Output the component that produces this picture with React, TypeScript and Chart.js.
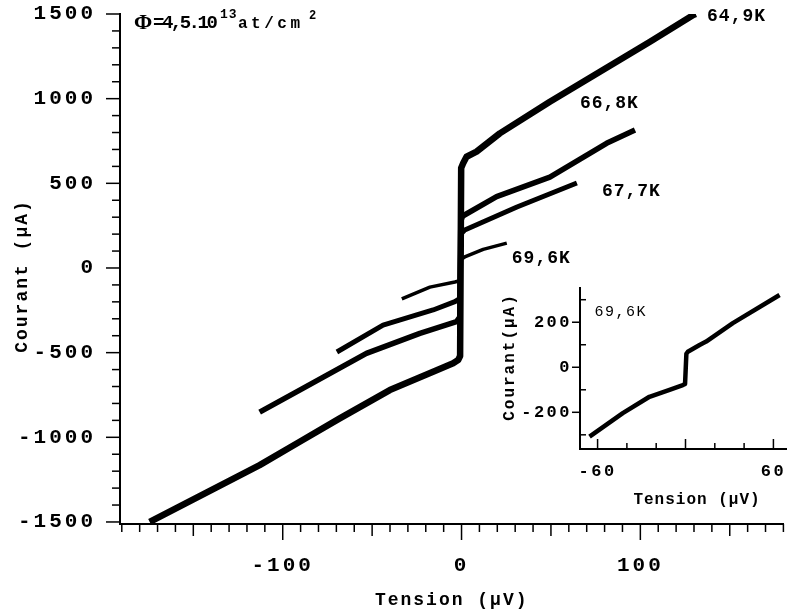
import React, { useEffect, useRef } from "react";
import { Chart, registerables } from "chart.js";

Chart.register(...registerables);

// ---------- main chart axes ----------
const X_MIN = -191;
const X_MAX = 180;
const Y_MIN = -1512;
const Y_MAX = 1500;
const xTickLabels = [-100, 0, 100];
const yTickLabels = [-1500, -1000, -500, 0, 500, 1000, 1500];
const xMinorStep = 10;
const yMinorStep = 100;

// ---------- I-V curves : Tension (µV) / Courant (µA) ----------
const v649 = [-174.4, -112.9, -90.5, -68.1, -40.1, -15.9, -4.7, -1.9, -0.8, -0.2, 0.9, 2.8, 8.4, 21.4, 49.4, 77.4, 105.4, 129.6, 131];
const i649 = [-1500, -1164, -1026, -888, -721, -613, -563, -544, -520, 590, 618, 657, 687, 795, 982, 1159, 1336, 1494, 1500];

const v668 = [-112.9, -90.5, -53.2, -23.3, -2.8, -1, -0.4, 0.7, 19.6, 49.4, 81.1, 97];
const i668 = [-851, -721, -504, -386, -317, -290, 280, 307, 421, 537, 736, 815];

const v677 = [-69.7, -43.9, -15.9, -3.7, -1, -0.4, 1.8, 31, 64.5];
const i677 = [-496, -337, -248, -199, -180, 200, 224, 360, 502];

const v696 = [-33.4, -17.7, -3.7, -1, -0.4, 1.8, 12.1, 25.3];
const i696 = [-183, -113, -83, -75, 50, 65, 110, 147];

const curveNames = ["64,9K", "66,8K", "67,7K", "69,6K"];
const curveLabelV = [137.3, 66.2, 78.5, 28.1];
const curveLabelI = [1488, 974, 449, 59];

// ---------- inset (69,6K) ----------
const INSET_X_MIN = -72;
const INSET_X_MAX = 69;
const INSET_Y_MIN = -363;
const INSET_Y_MAX = 352;
const insetXTickLabels = [-60, 60];
const insetYTickLabels = [-200, 0, 200];
const insetXMinorStep = 20;
const insetYMinorStep = 100;
const insetV = [-65.5, -42.8, -24.6, -10.9, -1.8, -0.3, 0.6, 1.6, 9.6, 14.1, 32.3, 64.2];
const insetI = [-308, -204, -131, -100, -79, -74, 60, 69, 99, 114, 196, 321];
const insetLabel = "69,6K";
const insetLabelV = -62.1;
const insetLabelI = 246;

const MONO = "'Liberation Mono', 'DejaVu Sans Mono', monospace";
const SERIF = "'Liberation Serif', 'DejaVu Serif', serif";

function pts(xs: number[], ys: number[]) {
  return xs.map((x, i) => ({ x, y: ys[i] }));
}

function line(ctx: CanvasRenderingContext2D, x1: number, y1: number, x2: number, y2: number) {
  ctx.beginPath();
  ctx.moveTo(x1, y1);
  ctx.lineTo(x2, y2);
  ctx.stroke();
}

function ds(data: { x: number; y: number }[], width: number) {
  return {
    data,
    borderColor: "#000",
    backgroundColor: "#000",
    borderWidth: width,
    pointRadius: 0,
    showLine: true,
    tension: 0,
    borderJoinStyle: "round",
    borderCapStyle: "butt",
    fill: false,
  };
}

function zeroPad(s: any) {
  s.paddingTop = 0;
  s.paddingBottom = 0;
  s.paddingLeft = 0;
  s.paddingRight = 0;
}

const plainLabel = (v: any) => String(v);

export default function App() {
  const mainRef = useRef<HTMLCanvasElement>(null);
  const insetRef = useRef<HTMLCanvasElement>(null);

  useEffect(() => {
    const spacingPlugin = (sp: string) => ({
      id: "spacing",
      beforeLayout(chart: any) {
        chart.ctx.letterSpacing = sp;
      },
      beforeDraw(chart: any) {
        chart.ctx.letterSpacing = sp;
      },
    });

    const mainDecor = {
      id: "mainDecor",
      afterDraw(chart: any) {
        const ctx = chart.ctx as CanvasRenderingContext2D;
        const xs = chart.scales.x;
        const ys = chart.scales.y;
        const { left, bottom } = chart.chartArea;
        ctx.save();
        ctx.strokeStyle = "#000";
        ctx.lineWidth = 1.5;
        for (let v = Math.ceil(X_MIN / xMinorStep) * xMinorStep; v <= X_MAX; v += xMinorStep) {
          const len = v % 100 === 0 ? 16 : v % 50 === 0 ? 12 : 8;
          const px = xs.getPixelForValue(v);
          line(ctx, px, bottom, px, bottom + len);
        }
        for (let v = -1500; v <= Y_MAX; v += yMinorStep) {
          const len = v % 500 === 0 ? 14 : 8;
          const py = ys.getPixelForValue(v);
          line(ctx, left - len, py, left, py);
        }
        ctx.fillStyle = "#000";
        // axis titles
        (ctx as any).letterSpacing = "2px";
        ctx.font = `bold 18px ${MONO}`;
        ctx.textAlign = "center";
        ctx.textBaseline = "middle";
        ctx.fillText("Tension (µV)", (chart.chartArea.left + chart.chartArea.right) / 2, 600);
        ctx.save();
        ctx.translate(22, (chart.chartArea.top + chart.chartArea.bottom) / 2 + 7);
        ctx.rotate(-Math.PI / 2);
        ctx.fillText("Courant (µA)", 0, 0);
        ctx.restore();
        // curve labels
        (ctx as any).letterSpacing = "1px";
        ctx.font = `bold 18px ${MONO}`;
        ctx.textAlign = "left";
        for (let k = 0; k < curveNames.length; k++) {
          ctx.fillText(curveNames[k], xs.getPixelForValue(curveLabelV[k]), ys.getPixelForValue(curveLabelI[k]));
        }
        // fluence
        ctx.textBaseline = "alphabetic";
        (ctx as any).letterSpacing = "0px";
        ctx.font = `bold 22px ${SERIF}`;
        ctx.fillText("Φ", 134, 29);
        (ctx as any).letterSpacing = "-2.5px";
        ctx.font = `bold 19px ${MONO}`;
        ctx.fillText("=4,5.10", 153, 28);
        (ctx as any).letterSpacing = "1px";
        ctx.font = `bold 13px ${MONO}`;
        ctx.fillText("13", 220, 18);
        (ctx as any).letterSpacing = "3.5px";
        ctx.font = `bold 16px ${MONO}`;
        ctx.fillText("at/cm", 238, 28);
        (ctx as any).letterSpacing = "0px";
        ctx.font = `bold 12px ${MONO}`;
        ctx.fillText("2", 309, 19);
        ctx.restore();
      },
    };

    const main = new Chart(mainRef.current as HTMLCanvasElement, {
      type: "scatter",
      data: {
        datasets: [
          ds(pts(v649, i649), 6.5),
          ds(pts(v668, i668), 5.5),
          ds(pts(v677, i677), 5),
          ds(pts(v696, i696), 3.5),
        ] as any,
      },
      options: {
        responsive: false,
        animation: false,
        events: [],
        layout: { padding: { top: 14, right: 4.6, left: 0, bottom: 0 } },
        plugins: { legend: { display: false }, tooltip: { enabled: false } },
        scales: {
          x: {
            type: "linear",
            min: X_MIN,
            max: X_MAX,
            afterBuildTicks: (s: any) => {
              s.ticks = xTickLabels.map((v) => ({ value: v }));
            },
            afterFit: (s: any) => {
              s.height = 91;
              zeroPad(s);
            },
            grid: { display: false, drawTicks: true, tickLength: 16 },
            border: { display: true, color: "#000", width: 2 },
            ticks: {
              color: "#000",
              font: { family: MONO, size: 21, weight: "bold" },
              padding: 13,
              maxRotation: 0,
              autoSkip: false,
              callback: plainLabel,
            },
          },
          y: {
            type: "linear",
            min: Y_MIN,
            max: Y_MAX,
            afterBuildTicks: (s: any) => {
              s.ticks = yTickLabels.map((v) => ({ value: v }));
            },
            afterFit: (s: any) => {
              s.width = 120;
              zeroPad(s);
            },
            grid: { display: false, drawTicks: true, tickLength: 16 },
            border: { display: true, color: "#000", width: 2 },
            ticks: {
              color: "#000",
              font: { family: MONO, size: 21, weight: "bold" },
              padding: 8,
              autoSkip: false,
              callback: plainLabel,
            },
          },
        },
      } as any,
      plugins: [spacingPlugin("3px"), mainDecor] as any,
    });

    const insetDecor = {
      id: "insetDecor",
      afterDraw(chart: any) {
        const ctx = chart.ctx as CanvasRenderingContext2D;
        const xs = chart.scales.x;
        const ys = chart.scales.y;
        const { left, bottom } = chart.chartArea;
        ctx.save();
        ctx.strokeStyle = "#000";
        ctx.lineWidth = 1.5;
        for (let v = -60; v <= INSET_X_MAX; v += insetXMinorStep) {
          const len = v % 60 === 0 ? 10 : 6;
          const px = xs.getPixelForValue(v);
          line(ctx, px, bottom, px, bottom - len);
        }
        for (let v = -300; v <= INSET_Y_MAX; v += insetYMinorStep) {
          const py = ys.getPixelForValue(v);
          if (v % 200 === 0) line(ctx, left - 8, py, left, py);
          else line(ctx, left, py, left + 6, py);
        }
        ctx.fillStyle = "#000";
        (ctx as any).letterSpacing = "1px";
        ctx.font = `bold 16px ${MONO}`;
        ctx.textAlign = "center";
        ctx.textBaseline = "middle";
        ctx.fillText("Tension (µV)", 217, 240);
        ctx.save();
        ctx.translate(30, 97);
        ctx.rotate(-Math.PI / 2);
        (ctx as any).letterSpacing = "2px";
        ctx.fillText("Courant(µA)", 0, 0);
        ctx.restore();
        (ctx as any).letterSpacing = "1.5px";
        ctx.font = `15px ${MONO}`;
        ctx.textAlign = "left";
        ctx.fillText(insetLabel, xs.getPixelForValue(insetLabelV), ys.getPixelForValue(insetLabelI));
        ctx.restore();
      },
    };

    const inset = new Chart(insetRef.current as HTMLCanvasElement, {
      type: "scatter",
      data: { datasets: [ds(pts(insetV, insetI), 4.5)] as any },
      options: {
        responsive: false,
        animation: false,
        events: [],
        layout: { padding: { top: 28, right: 1.4, left: 0, bottom: 0 } },
        plugins: { legend: { display: false }, tooltip: { enabled: false } },
        scales: {
          x: {
            type: "linear",
            min: INSET_X_MIN,
            max: INSET_X_MAX,
            afterBuildTicks: (s: any) => {
              s.ticks = insetXTickLabels.map((v) => ({ value: v }));
            },
            afterFit: (s: any) => {
              s.height = 71;
              zeroPad(s);
            },
            grid: { display: false, drawTicks: true, tickLength: 0 },
            border: { display: true, color: "#000", width: 2 },
            ticks: {
              color: "#000",
              font: { family: MONO, size: 17, weight: "bold" },
              padding: 13,
              maxRotation: 0,
              autoSkip: false,
              callback: plainLabel,
            },
          },
          y: {
            type: "linear",
            min: INSET_Y_MIN,
            max: INSET_Y_MAX,
            afterBuildTicks: (s: any) => {
              s.ticks = insetYTickLabels.map((v) => ({ value: v }));
            },
            afterFit: (s: any) => {
              s.width = 100;
              zeroPad(s);
            },
            grid: { display: false, drawTicks: true, tickLength: 8 },
            border: { display: true, color: "#000", width: 2 },
            ticks: {
              color: "#000",
              font: { family: MONO, size: 17, weight: "bold" },
              padding: 0,
              autoSkip: false,
              callback: plainLabel,
            },
          },
        },
      } as any,
      plugins: [spacingPlugin("2.5px"), insetDecor] as any,
    });

    return () => {
      main.destroy();
      inset.destroy();
    };
  }, []);

  return (
    <div style={{ position: "absolute", left: 0, top: 0, width: 788, height: 615, background: "#fff" }}>
      <canvas ref={mainRef} width={788} height={615} style={{ position: "absolute", left: 0, top: 0 }} />
      <canvas ref={insetRef} width={308} height={260} style={{ position: "absolute", left: 480, top: 260 }} />
    </div>
  );
}
